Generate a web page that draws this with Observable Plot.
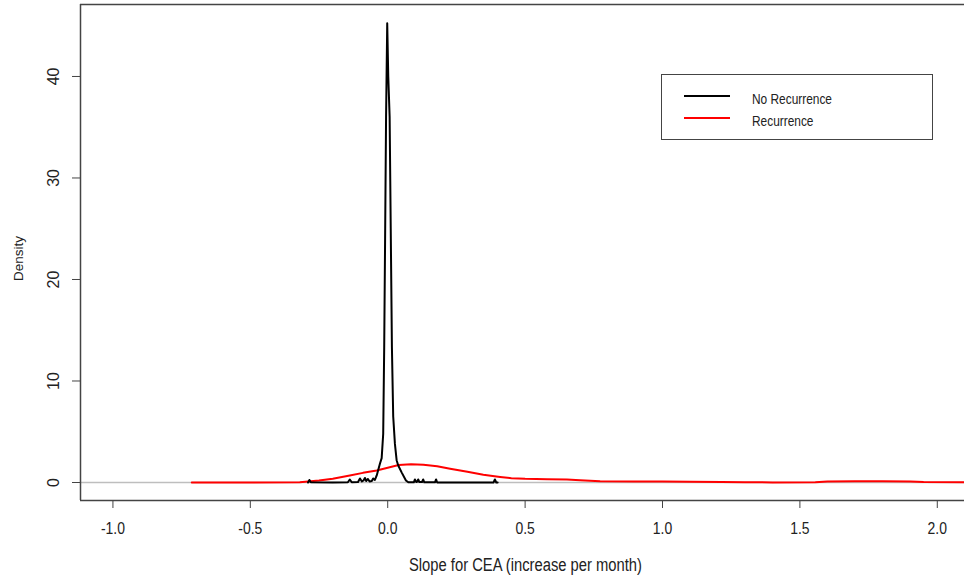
<!DOCTYPE html>
<html><head><meta charset="utf-8">
<script src="https://cdn.jsdelivr.net/npm/d3@7"></script>
<script src="https://cdn.jsdelivr.net/npm/@observablehq/plot@0.6"></script>
<style>
body{margin:0;background:#fff;}
#wrap{position:relative;width:964px;height:580px;overflow:hidden;background:#fff;}
#legend{position:absolute;left:661px;top:74px;width:270px;height:64px;border:1.5px solid #444;background:#fff;font-family:"Liberation Sans",Arial,sans-serif;font-size:14.5px;color:#222;}
.sw{position:absolute;left:22px;width:46px;}
.lbl{position:absolute;left:90px;line-height:16px;white-space:nowrap;transform:scaleX(0.82);transform-origin:0 50%;}
</style></head>
<body><div id="wrap"></div>
<script>
// Density estimate: No Recurrence (black)
const blackX = [-0.29,-0.285,-0.28,-0.2,-0.145,-0.138,-0.131,-0.108,-0.101,-0.094,-0.088,-0.083,-0.078,-0.072,-0.066,-0.058,-0.053,-0.0466,-0.04,-0.0284,-0.022,-0.0164,-0.0128,-0.0095,-0.006,-0.0018,0.002,0.007,0.011,0.0153,0.02,0.0262,0.0324,0.0383,0.0506,0.0663,0.075,0.095,0.099,0.104,0.108,0.111,0.115,0.125,0.129,0.133,0.172,0.176,0.18,0.385,0.39,0.395,0.40];
const blackY = [0,0.25,0.02,0,0.02,0.3,0.02,0.05,0.4,0.1,0.2,0.45,0.15,0.35,0.1,0.15,0.4,0.25,0.7,1.85,2.4,4.8,13.3,24,36,45.25,40,36,25,13.3,6.5,3.8,2.2,1.67,1.0,0.2,0.02,0.02,0.3,0.05,0.1,0.3,0.05,0.05,0.3,0.02,0.02,0.3,0,0,0.3,0,0];
// Density estimate: Recurrence (red)
const redX = [-0.713,-0.5,-0.32,-0.25,-0.2,-0.138,-0.09,-0.04,0.0,0.04,0.085,0.13,0.18,0.227,0.29,0.348,0.409,0.45,0.5,0.58,0.652,0.7,0.773,0.9,1.0,1.1,1.216,1.3,1.4,1.556,1.6,1.7,1.8,1.902,1.95,2.1];
const redY = [0,0,0.03,0.2,0.38,0.69,0.95,1.18,1.45,1.72,1.8,1.76,1.6,1.35,1.05,0.76,0.55,0.43,0.36,0.33,0.3,0.22,0.12,0.1,0.09,0.08,0.05,0.02,0.01,0.03,0.1,0.13,0.13,0.1,0.04,0.03];
const xTicks = [-1,-0.5,0,0.5,1,1.5,2];
const yTicks = [0,10,20,30,40];
const seriesNames = ["No Recurrence","Recurrence"];
const seriesColors = ["#000000","#ff0000"];
const xLabel = "Slope for CEA (increase per month)";
const yLabel = "Density";

const black = blackX.map((x,i)=>({x, y: blackY[i]}));
const red = redX.map((x,i)=>({x, y: redY[i]}));
const xDom = [-1.118, 2.099];
const yDom = [-1.773, 47.09];
const font = '"Liberation Sans",Arial,sans-serif';

const chart = Plot.plot({
  width: 964, height: 580,
  marginLeft: 80, marginRight: 0, marginTop: 4, marginBottom: 80,
  x: {domain: xDom},
  y: {domain: yDom},
  style: {fontFamily: font, color: "#222", background: "white", overflow: "visible"},
  marks: [
    Plot.ruleY([0], {stroke: "#bebebe", strokeWidth: 1.5}),
    Plot.line(red, {x: "x", y: "y", stroke: seriesColors[1], strokeWidth: 2, clip: true}),
    Plot.line(black, {x: "x", y: "y", stroke: seriesColors[0], strokeWidth: 2, clip: true}),
    Plot.ruleX([xDom[0]], {stroke: "#444", strokeWidth: 1.5}),
    Plot.ruleY(yDom, {stroke: "#444", strokeWidth: 1.5}),
    Plot.axisX({ticks: xTicks, tickFormat: d => d.toFixed(1), tickSize: 8, tickPadding: 13, fontSize: 17, label: null, stroke: "#444"}),
    Plot.axisY({ticks: yTicks, tickSize: 8, tickFormat: () => "", label: null, stroke: "#444"}),
    Plot.text(yTicks, {y: d => d, frameAnchor: "left", textAnchor: "middle", lineAnchor: "middle", dx: -27, rotate: -90, text: d => String(d), fontSize: 16, fill: "#222"}),
    Plot.text([xLabel], {frameAnchor: "bottom", textAnchor: "middle", lineAnchor: "middle", dy: 65, dx: 3, text: d => d, fontSize: 18, fill: "#222"}),
    Plot.text([yLabel], {frameAnchor: "left", textAnchor: "middle", lineAnchor: "middle", dx: -62, dy: 6, rotate: -90, text: d => d, fontSize: 13.5, fill: "#222"})
  ]
});
const wrap = document.getElementById("wrap");
wrap.appendChild(chart);

// condense horizontal texts to match the reference's narrow lettering
function squeeze(t, f) {
  const L = t.getComputedTextLength();
  if (L > 0) {
    t.setAttribute("textLength", (L * f).toFixed(1));
    t.setAttribute("lengthAdjust", "spacingAndGlyphs");
  }
}
chart.querySelectorAll('g[aria-label="x-axis tick label"] text').forEach(t => squeeze(t, 0.82));
chart.querySelectorAll("text").forEach(t => { if (t.textContent === xLabel) squeeze(t, 0.82); });

const leg = document.createElement("div");
leg.id = "legend";
const rows = [{ly: 20, ty: 16, w: 2.2}, {ly: 42, ty: 38, w: 1.6}];
seriesNames.forEach((name, i) => {
  const sw = document.createElement("div");
  sw.className = "sw";
  sw.style.top = rows[i].ly + "px";
  sw.style.height = rows[i].w + "px";
  sw.style.background = seriesColors[i];
  const lb = document.createElement("div");
  lb.className = "lbl";
  lb.style.top = rows[i].ty + "px";
  lb.textContent = name;
  leg.appendChild(sw);
  leg.appendChild(lb);
});
wrap.appendChild(leg);
</script>
</body></html>
